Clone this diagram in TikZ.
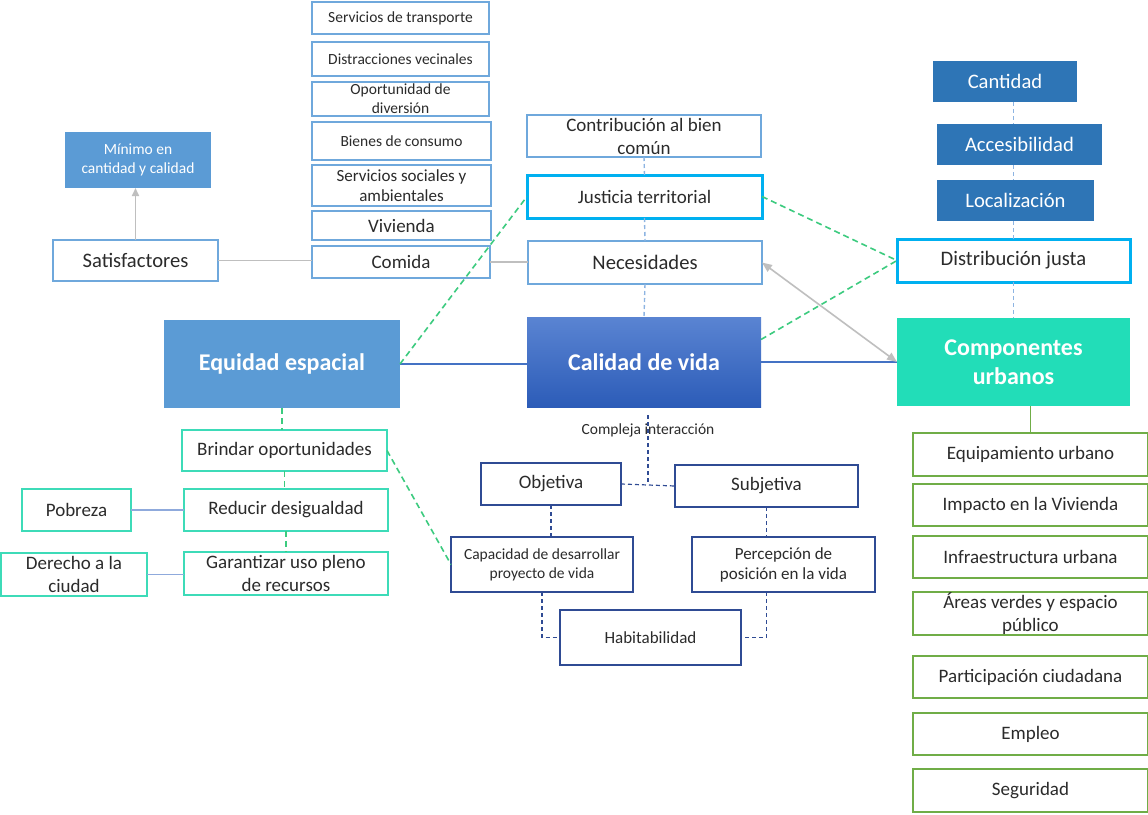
\documentclass[tikz,border=0pt]{standalone}
\usepackage{fontspec}
\setmainfont{Carlito}
\usetikzlibrary{arrows.meta,calc}
\definecolor{lblue}{HTML}{6FA8DC}
\definecolor{cyanb}{HTML}{00B0F0}
\definecolor{turq}{HTML}{3DDBB8}
\definecolor{grn}{HTML}{70AD47}
\definecolor{dkb}{HTML}{2F4B94}
\definecolor{eqfill}{HTML}{5B9BD5}
\definecolor{dkfillc}{HTML}{2E75B6}
\definecolor{compc}{HTML}{22DDB8}
\definecolor{txt}{HTML}{2B2B2B}
\definecolor{gline}{HTML}{BFBFBF}
\definecolor{gdash}{HTML}{3CCB7F}
\definecolor{lbdash}{HTML}{8DB4E2}
\definecolor{bline}{HTML}{4472C4}
\definecolor{pline}{HTML}{8FAADC}
\definecolor{HTMLc1}{HTML}{5A84D2}
\definecolor{HTMLc2}{HTML}{2C5CB8}
\newcommand\szS{\fontsize{7.75pt}{9.5pt}\selectfont}
\newcommand\szM{\fontsize{8.5pt}{10pt}\selectfont}
\newcommand\szN{\fontsize{9.5pt}{11.5pt}\selectfont}
\newcommand\szL{\fontsize{10.3pt}{12pt}\selectfont}
\newcommand\szB{\bfseries\fontsize{12pt}{14.5pt}\selectfont}
\newcommand\bx[7]{\node[#1, minimum width={(#5-#3)*0.5pt}, minimum height={(#6-#4)*0.5pt}] (#2) at ({(#3+#5)/2},{(#4+#6)/2}) {#7};}
\tikzset{
  base/.style={inner sep=0pt, outer sep=0pt, align=center, text=txt},
  lbox/.style={base, draw=lblue, line width=0.7pt, fill=white},
  cbox/.style={base, draw=cyanb, line width=1.5pt, fill=white},
  tbox/.style={base, draw=turq, line width=0.7pt, fill=white},
  gbox/.style={base, draw=grn, line width=0.7pt, fill=white},
  dbox/.style={base, draw=dkb, line width=0.7pt, fill=white},
  bluefill/.style={base, fill=eqfill, text=white},
  eqst/.style={base, fill=eqfill, text=white},
  calst/.style={base, top color=HTMLc1, bottom color=HTMLc2, text=white},
  compst/.style={base, fill=compc, text=white},
  dkfill/.style={base, fill=dkfillc, text=white},
  gray line/.style={draw=gline, line width=0.8pt},
  green dash/.style={draw=gdash, line width=0.8pt, dash pattern=on 3pt off 2pt},
  lb dash/.style={draw=lbdash, line width=0.7pt, dash pattern=on 2pt off 1.5pt},
  dk dash/.style={draw=dkb, line width=0.6pt, dash pattern=on 2pt off 1.5pt},
}
\begin{document}
\begin{tikzpicture}[x=0.5pt,y=-0.5pt]
\path[use as bounding box, fill=white] (0,0) rectangle (1148,815);
% top middle stack
\bx{lbox,font=\szS}{st}{312}{2}{489}{34}{Servicios de transporte}
\bx{lbox,font=\szS}{dv}{312}{42}{489}{76}{Distracciones vecinales}
\bx{lbox,font=\szS}{od}{312}{82}{489}{116}{Oportunidad de\\diversión}
\bx{lbox,font=\szS}{bc}{312}{122}{491}{160}{Bienes de consumo}
\bx{lbox,font=\szM}{ss}{312}{165}{491}{206}{Servicios sociales y\\ambientales}
\bx{lbox,font=\szN}{viv}{312}{211}{491}{240}{Vivienda}
\bx{lbox,font=\szN}{comida}{312}{246}{490}{278}{Comida}
\bx{lbox,font=\szN}{cbc}{527}{115}{761}{157}{Contribución al bien\\común}
\bx{cbox,font=\szN}{jus}{527}{175}{762}{218}{Justicia territorial}
\bx{lbox,font=\szL}{nec}{528}{241}{762}{284}{Necesidades}
\bx{lbox,font=\szL}{sat}{53}{240}{218}{281}{Satisfactores}
\bx{bluefill,font=\szS}{min}{65}{132}{211}{188}{Mínimo en\\cantidad y calidad}
% main boxes
\bx{eqst,font=\szB}{eq}{164}{320}{400}{408}{Equidad espacial}
\bx{calst,font=\szB}{cal}{527}{317}{761}{407}{Calidad de vida}
\bx{compst,font=\szB}{comp}{897}{318}{1130}{406}{Componentes\\urbanos}
% right top
\bx{dkfill,font=\szL}{can}{933}{61}{1077}{102}{Cantidad}
\bx{dkfill,font=\szL}{acc}{937}{124}{1102}{165}{Accesibilidad}
\bx{dkfill,font=\szL}{loc}{937}{180}{1094}{221}{Localización}
\bx{cbox,font=\szL}{dis}{897}{239}{1130}{282}{Distribución justa}
% right list
\bx{gbox,font=\szN}{equ}{913}{433}{1148}{476}{Equipamiento urbano}
\bx{gbox,font=\szN}{imp}{913}{484}{1148}{526}{Impacto en la Vivienda}
\bx{gbox,font=\szN}{inf}{913}{536}{1148}{578}{Infraestructura urbana}
\bx{gbox,font=\szN}{are}{913}{592}{1148}{635}{Áreas verdes y espacio\\público}
\bx{gbox,font=\szN}{par}{913}{656}{1148}{698}{Participación ciudadana}
\bx{gbox,font=\szN}{emp}{913}{713}{1148}{755}{Empleo}
\bx{gbox,font=\szN}{seg}{913}{769}{1148}{812}{Seguridad}
% left bottom
\bx{tbox,font=\szN}{bri}{182}{430}{387}{471}{Brindar oportunidades}
\bx{tbox,font=\szN}{red}{184}{489}{388}{531}{Reducir desigualdad}
\bx{tbox,font=\szN}{gar}{184}{552}{388}{595}{Garantizar uso pleno\\de recursos}
\bx{tbox,font=\szN}{pob}{22}{489}{131}{531}{Pobreza}
\bx{tbox,font=\szN}{der}{1}{553}{147}{596}{Derecho a la\\ciudad}
% center bottom
\bx{dbox,font=\szN}{obj}{481}{463}{621}{505}{Objetiva}
\bx{dbox,font=\szN}{sub}{675}{465}{858}{507}{Subjetiva}
\bx{dbox,font=\szS}{cap}{451}{537}{633}{592}{Capacidad de desarrollar\\proyecto de vida}
\bx{dbox,font=\szM}{per}{692}{537}{875}{592}{Percepción de\\posición en la vida}
\bx{dbox,font=\szM}{hab}{560}{610}{741}{665}{Habitabilidad}
\coordinate (cs) at ([xshift=2pt,yshift=-4pt]cal.south);
% connectors
\draw[gray line, -{Triangle[length=4pt,width=3.5pt]}] (sat.north) -- (sat.north |- min.south);
\draw[gray line] (sat.east) -- (sat.east -| comida.west);
\draw[gray line] (comida.east) -- (comida.east -| nec.west);
\draw[lb dash] (cbc.south) -- (jus.north);
\draw[lb dash] (jus.south) -- (nec.north);
\draw[lb dash] (nec.south) -- (cal.north);
\draw[lb dash] (can.south -| dis.north) -- (acc.north -| dis.north);
\draw[lb dash] (acc.south -| dis.north) -- (loc.north -| dis.north);
\draw[lb dash] (loc.south -| dis.north) -- (dis.north);
\draw[lb dash] (dis.south) -- (comp.north);
\draw[draw=bline, line width=0.8pt] (eq.east) -- (eq.east -| cal.west);
\draw[draw=bline, line width=0.8pt] (cal.east) -- (comp.west);
\draw[draw=grn, line width=0.8pt] (equ.north |- comp.south) -- (equ.north);
\draw[green dash] (eq.east) -- (jus.west);
\draw[green dash] (jus.east) -- (dis.west);
\draw[green dash] ($(cal.north east)!0.25!(cal.south east)$) -- (dis.west);
\draw[green dash] (eq.south) -- (eq.south |- bri.north);
\draw[green dash] (bri.south) -- (bri.south |- red.north);
\draw[green dash] (red.south) -- (red.south |- gar.north);
\draw[green dash] (bri.east) -- (cap.west);
\draw[draw=pline, line width=0.8pt] (pob.east) -- (red.west);
\draw[draw=pline, line width=0.8pt] (der.east) -- (der.east -| gar.west);
\draw[gray line, {Triangle[length=5pt,width=4pt]}-{Triangle[length=5pt,width=4pt]}] (nec.east) -- (comp.west);
\draw[dk dash] (cs) -- (cs |- obj.east);
\draw[dk dash] (obj.east) -- (sub.west);
\draw[dk dash] (obj.south) -- (obj.south |- cap.north);
\draw[dk dash] (sub.south) -- (sub.south |- per.north);
\draw[dk dash] (cap.south) |- (hab.west);
\draw[dk dash] (per.south -| sub.south) |- (hab.east);
\node[font=\szS, text=txt, inner sep=0pt] (ci) at (648,430) {Compleja interacción};
\end{tikzpicture}
\end{document}
